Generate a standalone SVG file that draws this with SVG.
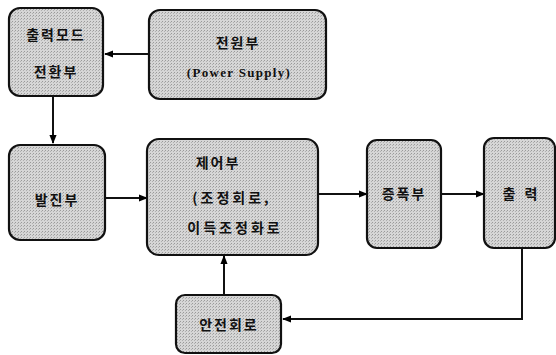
<svg xmlns="http://www.w3.org/2000/svg" width="556" height="355" viewBox="0 0 556 355">
<defs>
<pattern id="dots" width="3" height="3" patternUnits="userSpaceOnUse">
<rect width="3" height="3" fill="#d6d6d6"/>
<rect width="1" height="1" fill="#9a9a9a"/>
<rect x="2" y="1" width="1" height="1" fill="#b0b0b0"/>
</pattern>
<marker id="ah" viewBox="0 0 10 10" refX="9" refY="5" markerWidth="9" markerHeight="9" markerUnits="userSpaceOnUse" orient="auto">
<path d="M0,1 L10,5 L0,9 Z" fill="#000"/>
</marker>
<style>
.box{fill:url(#dots);stroke:#111;stroke-width:2.2}
.t{font-family:"Noto Sans CJK KR","Noto Sans CJK SC",sans-serif;font-weight:bold;font-size:14px;fill:#111;text-anchor:middle;letter-spacing:2px}
.w{letter-spacing:3px}
.e{font-family:"Liberation Serif",serif;font-weight:bold;font-size:13px;fill:#111;text-anchor:middle;letter-spacing:1.3px}
.c{fill:none;stroke:#111;stroke-width:2}
</style>
</defs>
<g id="connectors">
<line class="c" x1="149" y1="54" x2="105" y2="54" marker-end="url(#ah)"/>
<line class="c" x1="53" y1="96" x2="53" y2="143" marker-end="url(#ah)"/>
<line class="c" x1="105" y1="198" x2="147" y2="198" marker-end="url(#ah)"/>
<line class="c" x1="318" y1="194" x2="367" y2="194" marker-end="url(#ah)"/>
<line class="c" x1="441" y1="194" x2="484" y2="194" marker-end="url(#ah)"/>
<polyline class="c" points="522,248 522,319 283,319" marker-end="url(#ah)"/>
<line class="c" x1="224" y1="295" x2="224" y2="256" marker-end="url(#ah)"/>
</g>
<g id="n1"><rect class="box" x="9" y="8" width="94" height="88" rx="11"/>
<text class="t" x="56" y="40">출력모드</text><text class="t" x="56" y="77">전환부</text></g>
<g id="n2"><rect class="box" x="149" y="10" width="177" height="89" rx="11"/>
<text class="t" x="238" y="48">전원부</text><text class="e" x="239" y="77">(Power Supply)</text></g>
<g id="n3"><rect class="box" x="9" y="145" width="96" height="95" rx="11"/>
<text class="t" x="57" y="205">발진부</text></g>
<g id="n4"><rect class="box" x="147" y="139" width="171" height="116" rx="12"/>
<text class="t" x="218" y="168">제어부</text><text class="t w" x="232" y="203">(조정회로,</text><text class="t w" x="235" y="233">이득조정화로</text></g>
<g id="n5"><rect class="box" x="367" y="140" width="74" height="108" rx="10"/>
<text class="t" x="404" y="199">증폭부</text></g>
<g id="n6"><rect class="box" x="484" y="138" width="71" height="110" rx="10"/>
<text class="t" x="520" y="199" style="letter-spacing:0"><tspan x="509">출</tspan><tspan x="531">력</tspan></text></g>
<g id="n7"><rect class="box" x="176" y="295" width="105" height="58" rx="9"/>
<text class="t" x="229" y="330">안전회로</text></g>
</svg>
